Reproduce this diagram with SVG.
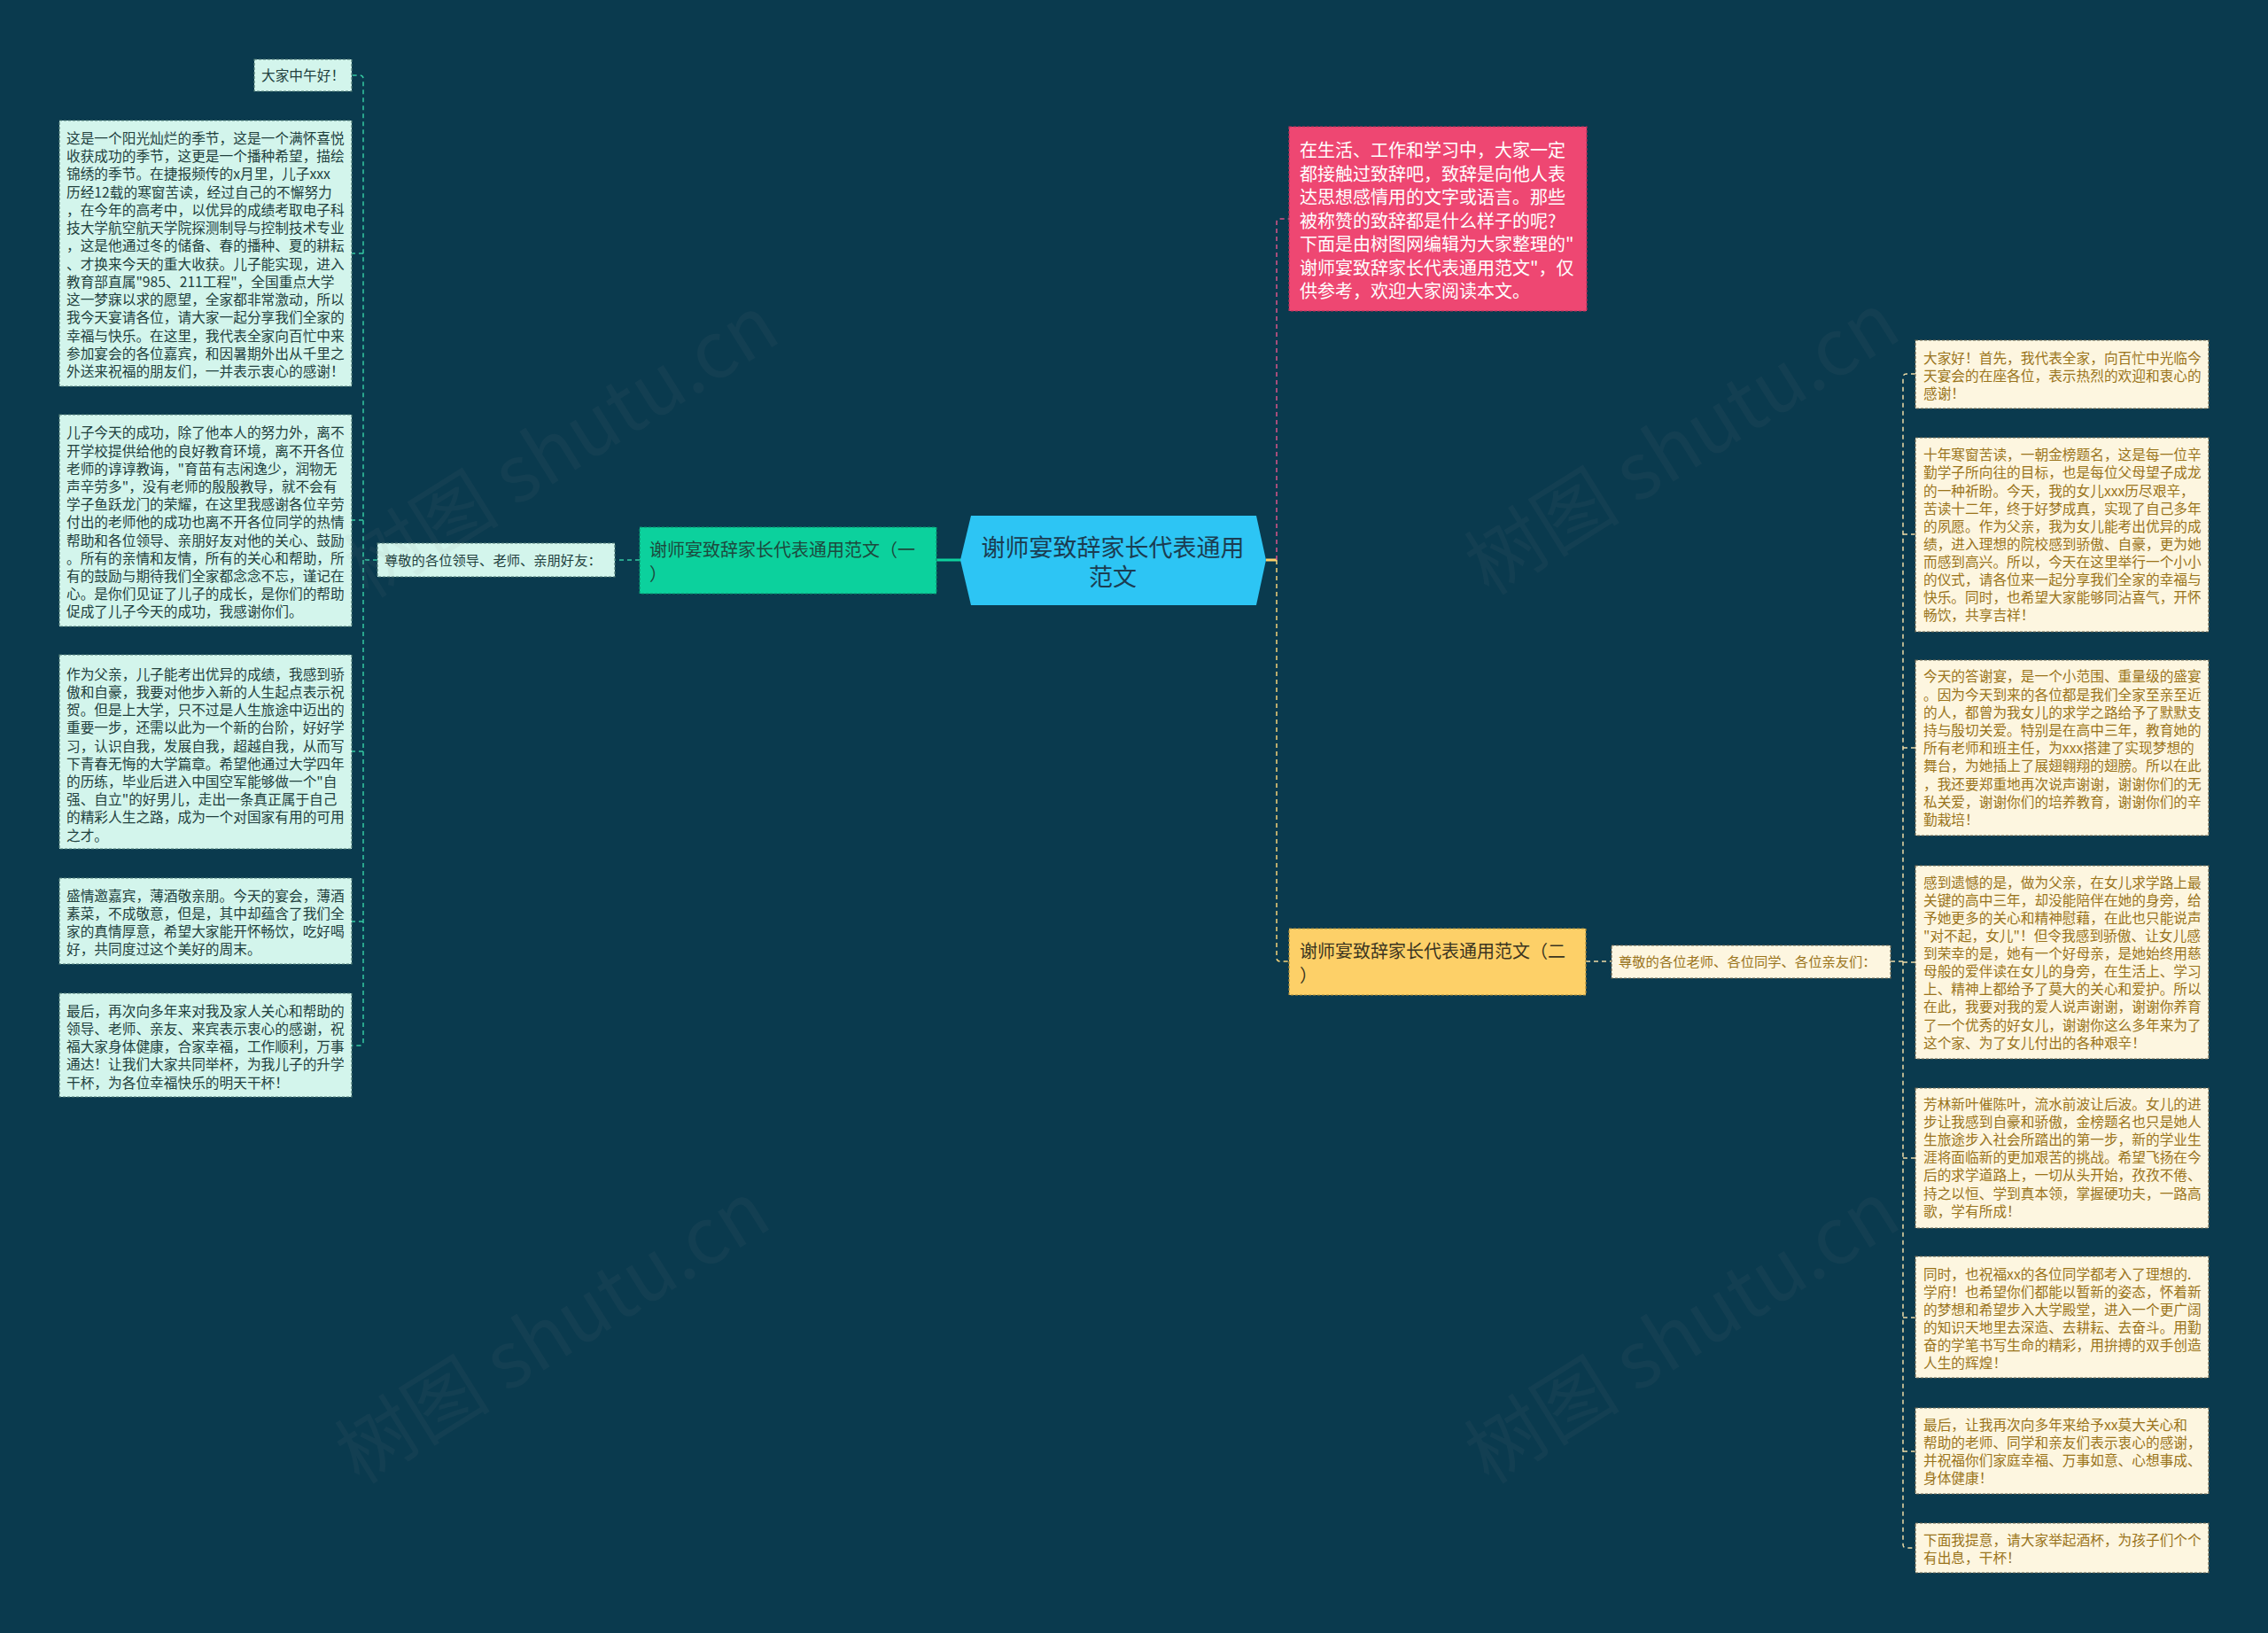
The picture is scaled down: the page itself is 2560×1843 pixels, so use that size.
<svg xmlns="http://www.w3.org/2000/svg" width="2560" height="1843" viewBox="0 0 2560 1843">
<style>
text{font-family:"Noto Sans CJK SC","Microsoft YaHei","Noto Sans",sans-serif;}
.bg{fill:#0a3a4e;}
.mint{fill:#d3f5ec;stroke:#4f7a74;stroke-width:1.2;stroke-dasharray:3 2;}
.cream{fill:#fdf6e0;stroke:#6d6650;stroke-width:1.2;stroke-dasharray:3 2;}
.tm{font-size:15.7px;fill:#22413e;}
.tc{font-size:15.7px;fill:#9a741b;}
.lt{stroke:#35c9a2;stroke-width:1.5;fill:none;stroke-dasharray:5 4;}
.rt{stroke:#efdca6;stroke-width:1.5;fill:none;stroke-dasharray:5 4;}
.pk{stroke:#d9568a;stroke-width:1.5;fill:none;stroke-dasharray:5 4;}
.yl{stroke:#f3d27a;stroke-width:1.5;fill:none;stroke-dasharray:5 4;}
.wm{font-size:88px;fill:#8a8a8a;opacity:0.07;}
</style>
<rect class="bg" x="0" y="0" width="2560" height="1843"/>

<g id="connectors">
  <path class="lt" d="M426,632 L414,632 Q410,632 410,628 L410,89 Q410,85 406,85 L397,85"/>
  <path class="lt" d="M410,286 L397,286"/>
  <path class="lt" d="M410,587 L397,587"/>
  <path class="lt" d="M410,632 L410,1176 Q410,1180 406,1180 L397,1180"/>
  <path class="lt" d="M410,848 L397,848"/>
  <path class="lt" d="M410,1040 L397,1040"/>
  <path class="lt" d="M722,632 L694,632"/>
  <path d="M1057,632 L1085,632" stroke="#0dd19d" stroke-width="3" fill="none"/>
  <path d="M1429,632 L1441,632" stroke="#fcd068" stroke-width="3" fill="none"/>
  <path class="pk" d="M1441,632 L1441,251 Q1441,247 1445,247 L1455,247"/>
  <path class="yl" d="M1441,632 L1441,1081 Q1441,1085 1445,1085 L1455,1085"/>
  <path class="rt" d="M1790,1085 L1819,1085"/>
  <path class="rt" d="M2134,1085 L2148,1085"/>
  <path class="rt" d="M2162,422 L2152,422 Q2148,422 2148,426 L2148,1743 Q2148,1747 2152,1747 L2162,1747"/>
  <path class="rt" d="M2148,603 L2162,603"/>
  <path class="rt" d="M2148,844 L2162,844"/>
  <path class="rt" d="M2148,1086 L2162,1086"/>
  <path class="rt" d="M2148,1307 L2162,1307"/>
  <path class="rt" d="M2148,1487 L2162,1487"/>
  <path class="rt" d="M2148,1638 L2162,1638"/>
</g>

<g id="center">
  <polygon points="1084,632 1096,582 1418,582 1429,632 1418,683 1096,683" fill="#2dc5f4"/>
  <text x="1256" y="628" font-size="27" fill="#1b3d52" text-anchor="middle">谢师宴致辞家长代表通用</text>
  <text x="1256" y="661" font-size="27" fill="#1b3d52" text-anchor="middle">范文</text>
</g>

<g id="intro">
  <rect x="1455" y="143" width="336" height="208" fill="#ee4772" stroke="#b8315a" stroke-width="1.2" stroke-dasharray="3 2"/>
  <text x="1467" y="177" font-size="20" fill="#ffffff">在生活、工作和学习中，大家一定<tspan x="1467" dy="26.5">都接触过致辞吧，致辞是向他人表</tspan><tspan x="1467" dy="26.5">达思想感情用的文字或语言。那些</tspan><tspan x="1467" dy="26.5">被称赞的致辞都是什么样子的呢?</tspan><tspan x="1467" dy="26.5">下面是由树图网编辑为大家整理的"</tspan><tspan x="1467" dy="26.5">谢师宴致辞家长代表通用范文"，仅</tspan><tspan x="1467" dy="26.5">供参考，欢迎大家阅读本文。</tspan></text>
</g>

<g id="branch1">
  <rect x="722" y="595" width="335" height="75" fill="#0cd19d" stroke="#0a8f6c" stroke-width="1.2" stroke-dasharray="3 2"/>
  <text x="733" y="627.6" font-size="20" fill="#1d4a3d">谢师宴致辞家长代表通用范文（一<tspan x="733" dy="27">）</tspan></text>
</g>

<g id="branch2">
  <rect x="1455" y="1048" width="335" height="75" fill="#fdd068" stroke="#a8893a" stroke-width="1.2" stroke-dasharray="3 2"/>
  <text x="1467" y="1080.6" font-size="20" fill="#3b3520">谢师宴致辞家长代表通用范文（二<tspan x="1467" dy="27">）</tspan></text>
</g>

<g id="label1">
  <rect class="mint" x="426" y="613" width="268" height="38"/>
  <text class="tm" x="434" y="638" style="font-size:15.3px">尊敬的各位领导、老师、亲朋好友：</text>
</g>

<g id="label2">
  <rect class="cream" x="1819" y="1067" width="315" height="37"/>
  <text class="tc" x="1827" y="1091" style="font-size:15.3px">尊敬的各位老师、各位同学、各位亲友们：</text>
</g>

<g id="L1">
  <rect class="mint" x="287" y="67" width="110" height="36"/>
  <text class="tm" x="295" y="91">大家中午好！</text>
</g>

<g id="L2">
  <rect class="mint" x="67" y="136" width="330" height="300"/>
  <text class="tm" x="75" y="162">这是一个阳光灿烂的季节，这是一个满怀喜悦<tspan x="75" dy="20.23">收获成功的季节，这更是一个播种希望，描绘</tspan><tspan x="75" dy="20.23">锦绣的季节。在捷报频传的x月里，儿子xxx</tspan><tspan x="75" dy="20.23">历经12载的寒窗苦读，经过自己的不懈努力</tspan><tspan x="75" dy="20.23">，在今年的高考中，以优异的成绩考取电子科</tspan><tspan x="75" dy="20.23">技大学航空航天学院探测制导与控制技术专业</tspan><tspan x="75" dy="20.23">，这是他通过冬的储备、春的播种、夏的耕耘</tspan><tspan x="75" dy="20.23">、才换来今天的重大收获。儿子能实现，进入</tspan><tspan x="75" dy="20.23">教育部直属"985、211工程"，全国重点大学</tspan><tspan x="75" dy="20.23">这一梦寐以求的愿望，全家都非常激动，所以</tspan><tspan x="75" dy="20.23">我今天宴请各位，请大家一起分享我们全家的</tspan><tspan x="75" dy="20.23">幸福与快乐。在这里，我代表全家向百忙中来</tspan><tspan x="75" dy="20.23">参加宴会的各位嘉宾，和因暑期外出从千里之</tspan><tspan x="75" dy="20.23">外送来祝福的朋友们，一并表示衷心的感谢！</tspan></text>
</g>

<g id="L3">
  <rect class="mint" x="67" y="468" width="330" height="239"/>
  <text class="tm" x="75" y="494.3">儿子今天的成功，除了他本人的努力外，离不<tspan x="75" dy="20.2">开学校提供给他的良好教育环境，离不开各位</tspan><tspan x="75" dy="20.2">老师的谆谆教诲，"育苗有志闲逸少，润物无</tspan><tspan x="75" dy="20.2">声辛劳多"，没有老师的殷殷教导，就不会有</tspan><tspan x="75" dy="20.2">学子鱼跃龙门的荣耀，在这里我感谢各位辛劳</tspan><tspan x="75" dy="20.2">付出的老师他的成功也离不开各位同学的热情</tspan><tspan x="75" dy="20.2">帮助和各位领导、亲朋好友对他的关心、鼓励</tspan><tspan x="75" dy="20.2">。所有的亲情和友情，所有的关心和帮助，所</tspan><tspan x="75" dy="20.2">有的鼓励与期待我们全家都念念不忘，谨记在</tspan><tspan x="75" dy="20.2">心。是你们见证了儿子的成长，是你们的帮助</tspan><tspan x="75" dy="20.2">促成了儿子今天的成功，我感谢你们。</tspan></text>
</g>

<g id="L4">
  <rect class="mint" x="67" y="739" width="330" height="219"/>
  <text class="tm" x="75" y="766.7">作为父亲，儿子能考出优异的成绩，我感到骄<tspan x="75" dy="20.2">傲和自豪，我要对他步入新的人生起点表示祝</tspan><tspan x="75" dy="20.2">贺。但是上大学，只不过是人生旅途中迈出的</tspan><tspan x="75" dy="20.2">重要一步，还需以此为一个新的台阶，好好学</tspan><tspan x="75" dy="20.2">习，认识自我，发展自我，超越自我，从而写</tspan><tspan x="75" dy="20.2">下青春无悔的大学篇章。希望他通过大学四年</tspan><tspan x="75" dy="20.2">的历练，毕业后进入中国空军能够做一个"自</tspan><tspan x="75" dy="20.2">强、自立"的好男儿，走出一条真正属于自己</tspan><tspan x="75" dy="20.2">的精彩人生之路，成为一个对国家有用的可用</tspan><tspan x="75" dy="20.2">之才。</tspan></text>
</g>

<g id="L5">
  <rect class="mint" x="67" y="991" width="330" height="97"/>
  <text class="tm" x="75" y="1016.7">盛情邀嘉宾，薄酒敬亲朋。今天的宴会，薄酒<tspan x="75" dy="20.2">素菜，不成敬意，但是，其中却蕴含了我们全</tspan><tspan x="75" dy="20.2">家的真情厚意，希望大家能开怀畅饮，吃好喝</tspan><tspan x="75" dy="20.2">好，共同度过这个美好的周末。</tspan></text>
</g>

<g id="L6">
  <rect class="mint" x="67" y="1121" width="330" height="117"/>
  <text class="tm" x="75" y="1146.7">最后，再次向多年来对我及家人关心和帮助的<tspan x="75" dy="20.2">领导、老师、亲友、来宾表示衷心的感谢，祝</tspan><tspan x="75" dy="20.2">福大家身体健康，合家幸福，工作顺利，万事</tspan><tspan x="75" dy="20.2">通达！让我们大家共同举杯，为我儿子的升学</tspan><tspan x="75" dy="20.2">干杯，为各位幸福快乐的明天干杯！</tspan></text>
</g>

<g id="R1">
  <rect class="cream" x="2162" y="384" width="331" height="77"/>
  <text class="tc" x="2171" y="410">大家好！首先，我代表全家，向百忙中光临今<tspan x="2171" dy="20">天宴会的在座各位，表示热烈的欢迎和衷心的</tspan><tspan x="2171" dy="20">感谢！</tspan></text>
</g>

<g id="R2">
  <rect class="cream" x="2162" y="494" width="331" height="219"/>
  <text class="tc" x="2171" y="519.3">十年寒窗苦读，一朝金榜题名，这是每一位辛<tspan x="2171" dy="20.1">勤学子所向往的目标，也是每位父母望子成龙</tspan><tspan x="2171" dy="20.1">的一种祈盼。今天，我的女儿xxx历尽艰辛，</tspan><tspan x="2171" dy="20.1">苦读十二年，终于好梦成真，实现了自己多年</tspan><tspan x="2171" dy="20.1">的夙愿。作为父亲，我为女儿能考出优异的成</tspan><tspan x="2171" dy="20.1">绩，进入理想的院校感到骄傲、自豪，更为她</tspan><tspan x="2171" dy="20.1">而感到高兴。所以，今天在这里举行一个小小</tspan><tspan x="2171" dy="20.1">的仪式，请各位来一起分享我们全家的幸福与</tspan><tspan x="2171" dy="20.1">快乐。同时，也希望大家能够同沾喜气，开怀</tspan><tspan x="2171" dy="20.1">畅饮，共享吉祥！</tspan></text>
</g>

<g id="R3">
  <rect class="cream" x="2162" y="745" width="331" height="198"/>
  <text class="tc" x="2171" y="769.3">今天的答谢宴，是一个小范围、重量级的盛宴<tspan x="2171" dy="20.2">。因为今天到来的各位都是我们全家至亲至近</tspan><tspan x="2171" dy="20.2">的人，都曾为我女儿的求学之路给予了默默支</tspan><tspan x="2171" dy="20.2">持与殷切关爱。特别是在高中三年，教育她的</tspan><tspan x="2171" dy="20.2">所有老师和班主任，为xxx搭建了实现梦想的</tspan><tspan x="2171" dy="20.2">舞台，为她插上了展翅翱翔的翅膀。所以在此</tspan><tspan x="2171" dy="20.2">，我还要郑重地再次说声谢谢，谢谢你们的无</tspan><tspan x="2171" dy="20.2">私关爱，谢谢你们的培养教育，谢谢你们的辛</tspan><tspan x="2171" dy="20.2">勤栽培！</tspan></text>
</g>

<g id="R4">
  <rect class="cream" x="2162" y="977" width="331" height="218"/>
  <text class="tc" x="2171" y="1001.7">感到遗憾的是，做为父亲，在女儿求学路上最<tspan x="2171" dy="20.1">关键的高中三年，却没能陪伴在她的身旁，给</tspan><tspan x="2171" dy="20.1">予她更多的关心和精神慰藉，在此也只能说声</tspan><tspan x="2171" dy="20.1">"对不起，女儿"！但令我感到骄傲、让女儿感</tspan><tspan x="2171" dy="20.1">到荣幸的是，她有一个好母亲，是她始终用慈</tspan><tspan x="2171" dy="20.1">母般的爱伴读在女儿的身旁，在生活上、学习</tspan><tspan x="2171" dy="20.1">上、精神上都给予了莫大的关心和爱护。所以</tspan><tspan x="2171" dy="20.1">在此，我要对我的爱人说声谢谢，谢谢你养育</tspan><tspan x="2171" dy="20.1">了一个优秀的好女儿，谢谢你这么多年来为了</tspan><tspan x="2171" dy="20.1">这个家、为了女儿付出的各种艰辛！</tspan></text>
</g>

<g id="R5">
  <rect class="cream" x="2162" y="1228" width="331" height="158"/>
  <text class="tc" x="2171" y="1252">芳林新叶催陈叶，流水前波让后波。女儿的进<tspan x="2171" dy="20.1">步让我感到自豪和骄傲，金榜题名也只是她人</tspan><tspan x="2171" dy="20.1">生旅途步入社会所踏出的第一步，新的学业生</tspan><tspan x="2171" dy="20.1">涯将面临新的更加艰苦的挑战。希望飞扬在今</tspan><tspan x="2171" dy="20.1">后的求学道路上，一切从头开始，孜孜不倦、</tspan><tspan x="2171" dy="20.1">持之以恒、学到真本领，掌握硬功夫，一路高</tspan><tspan x="2171" dy="20.1">歌，学有所成！</tspan></text>
</g>

<g id="R6">
  <rect class="cream" x="2162" y="1418" width="331" height="137"/>
  <text class="tc" x="2171" y="1443.7">同时，也祝福xx的各位同学都考入了理想的.<tspan x="2171" dy="20.1">学府！也希望你们都能以暂新的姿态，怀着新</tspan><tspan x="2171" dy="20.1">的梦想和希望步入大学殿堂，进入一个更广阔</tspan><tspan x="2171" dy="20.1">的知识天地里去深造、去耕耘、去奋斗。用勤</tspan><tspan x="2171" dy="20.1">奋的学笔书写生命的精彩，用拚搏的双手创造</tspan><tspan x="2171" dy="20.1">人生的辉煌！</tspan></text>
</g>

<g id="R7">
  <rect class="cream" x="2162" y="1589" width="331" height="97"/>
  <text class="tc" x="2171" y="1613.7">最后，让我再次向多年来给予xx莫大关心和<tspan x="2171" dy="20.2">帮助的老师、同学和亲友们表示衷心的感谢，</tspan><tspan x="2171" dy="20.2">并祝福你们家庭幸福、万事如意、心想事成、</tspan><tspan x="2171" dy="20.2">身体健康！</tspan></text>
</g>

<g id="R8">
  <rect class="cream" x="2162" y="1719" width="331" height="56"/>
  <text class="tc" x="2171" y="1744.3">下面我提意，请大家举起酒杯，为孩子们个个<tspan x="2171" dy="20">有出息，干杯！</tspan></text>
</g>

<g id="watermarks">
  <text class="wm" text-anchor="middle" transform="translate(650,530) rotate(-32)">树图 shutu.cn</text>
  <text class="wm" text-anchor="middle" transform="translate(640,1530) rotate(-32)">树图 shutu.cn</text>
  <text class="wm" text-anchor="middle" transform="translate(1915,527) rotate(-32)">树图 shutu.cn</text>
  <text class="wm" text-anchor="middle" transform="translate(1915,1530) rotate(-32)">树图 shutu.cn</text>
</g>
</svg>
